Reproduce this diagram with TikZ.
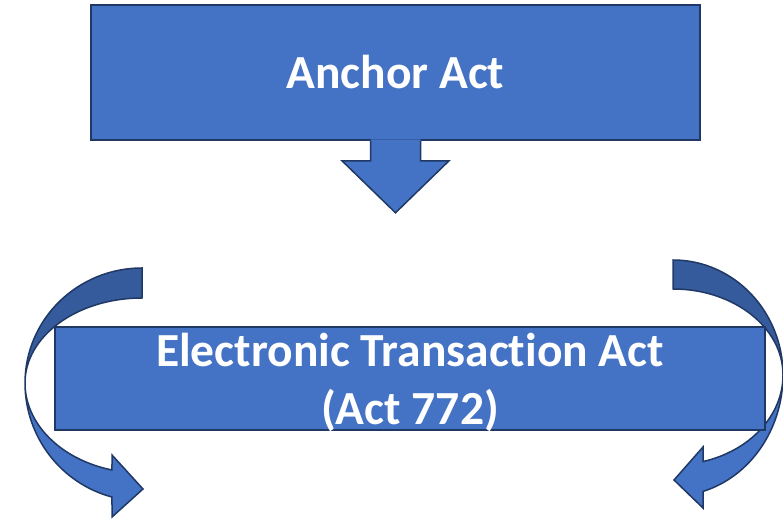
\documentclass[tikz,border=0pt]{standalone}
\usepackage{fontspec}
\setmainfont{Carlito}[Ligatures=NoCommon]
\usetikzlibrary{positioning,calc}
\definecolor{actblue}{HTML}{4472C4}
\definecolor{actedge}{HTML}{1F3864}
\tikzset{block/.style={draw=actedge,line width=1.6pt,fill=actblue,text=white,inner sep=0pt,
                       font=\fontsize{47.5}{58}\selectfont\bfseries,align=center},
         blocktext/.style={text=white,inner sep=0pt,font=\fontsize{47.5}{58}\selectfont\bfseries,align=center},
         front/.style={fill=actblue,draw=actedge,line width=1.5pt},
         back/.style={fill=actblue!80!black,draw=actedge,line width=1.5pt}
}

\begin{document}
\begin{tikzpicture}[x=1pt,y=1pt]
\useasboundingbox (0,0) rectangle (783,521);

% centres of the two curved arrows
\coordinate (lc) at (142,138);
\coordinate (rc) at (673,146);

% left curved arrow
\draw[back] ($(lc)+(0,115)$) arc[start angle=90,end angle=180,x radius=117,y radius=115]
            arc[start angle=180,end angle=90,x radius=117,y radius=85] -- cycle;
\draw[front] ($(lc)+(-117,0)$) arc[start angle=180,end angle=255.14,x radius=117,y radius=118]
             -- (112,4) -- (143,32) -- (112,66) -- ($(lc)+(255.14:117 and 90)$)
             arc[start angle=255.14,end angle=180,x radius=117,y radius=90] -- cycle;

% right curved arrow
\draw[back] ($(rc)+(0,115)$) arc[start angle=90,end angle=0,x radius=110,y radius=115]
            arc[start angle=0,end angle=90,x radius=110,y radius=86] -- cycle;
\draw[front] ($(rc)+(110,0)$) arc[start angle=0,end angle=-74.17,x radius=110,y radius=121]
             -- (703,13) -- (674,41) -- (703,74) -- ($(rc)+(-74.17:110 and 90)$)
             arc[start angle=-74.17,end angle=0,x radius=110,y radius=90] -- cycle;

\node[block,minimum width=609pt,minimum height=135pt] (anchor) at (395.5,448.5) {Anchor Act};
\node[block,minimum width=710pt,minimum height=103pt] (eta) at (410,142.5) {};
\node[blocktext] (etatext) at ($(eta.center)+(0,-3.5)$) {Electronic Transaction Act\\(Act 772)};

% down arrow under the top box
\coordinate (tip) at ($(anchor.south)+(0,-72)$);
\fill[actblue] ($(anchor.south)+(-25,1.5)$) -- ++(0,-21.5) -- ++(-28.5,0) -- (tip)
               -- ($(anchor.south)+(53.5,-20)$) -- ++(-28.5,0) -- ($(anchor.south)+(25,1.5)$) -- cycle;
\draw[actedge,line width=1.5pt] ($(anchor.south)+(-25,0)$) -- ++(0,-20) -- ++(-28.5,0) -- (tip)
               -- ($(anchor.south)+(53.5,-20)$) -- ++(-28.5,0) -- ++(0,20);

\end{tikzpicture}
\end{document}
